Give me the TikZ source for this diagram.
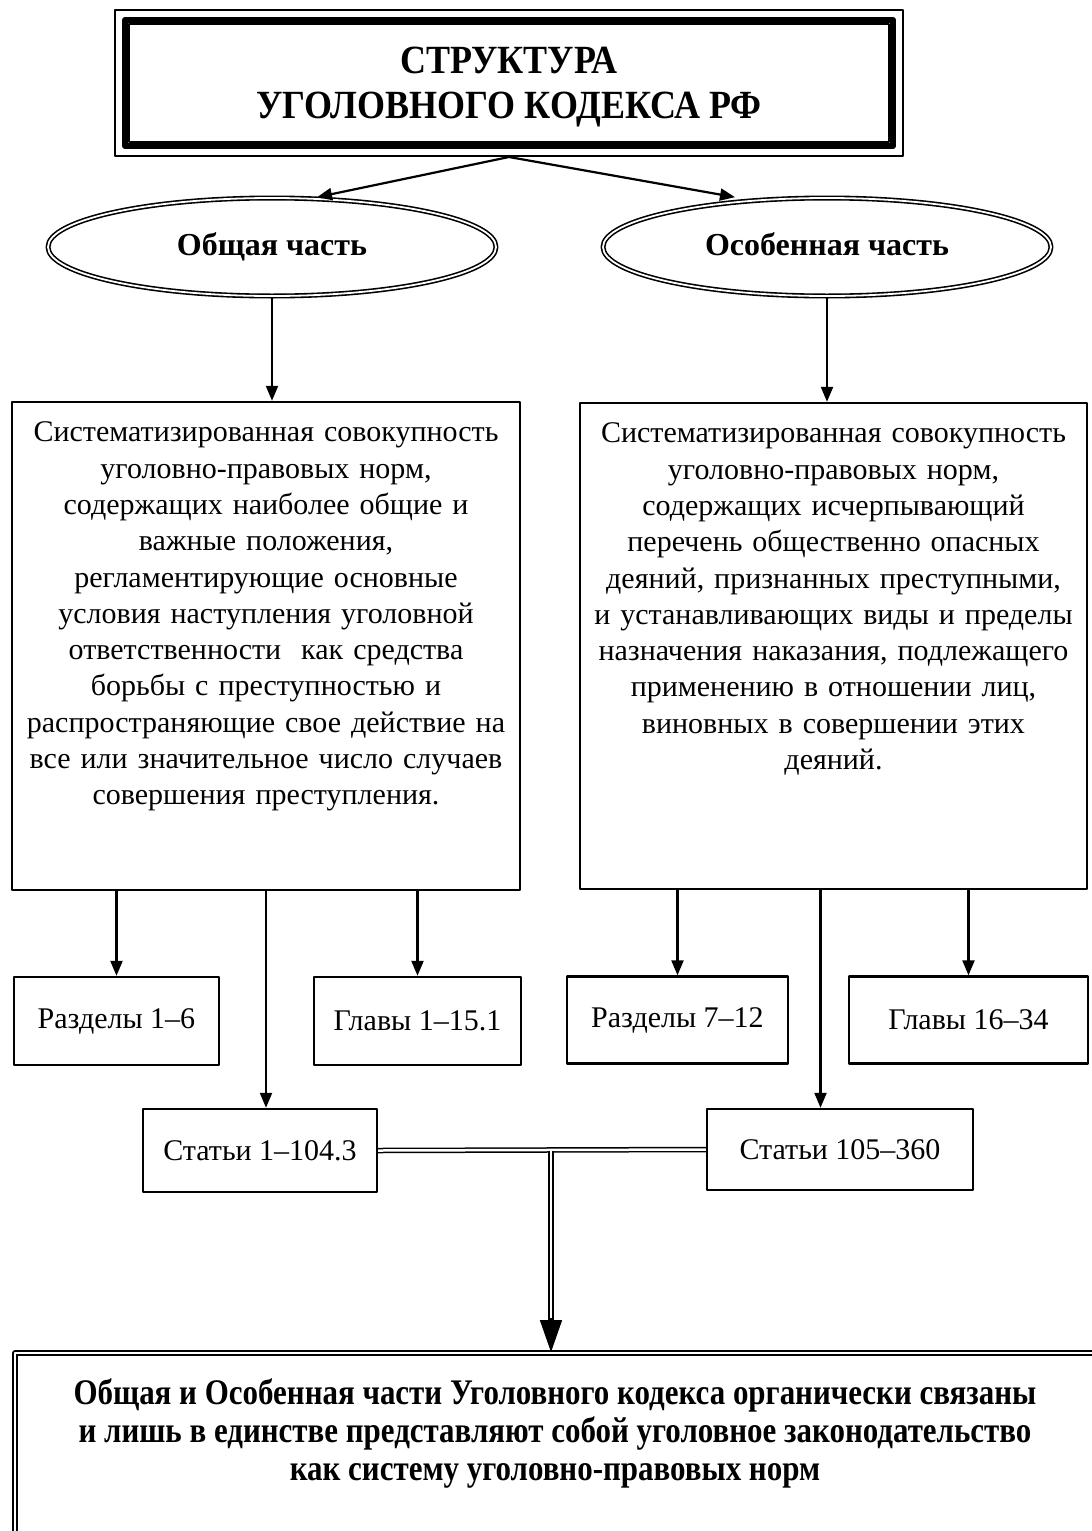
\documentclass[tikz,border=0pt]{standalone}
\usepackage{fontspec}
\setmainfont{Liberation Serif}
\newfontfamily\narrowbf[FakeStretch=0.86]{Liberation Serif Bold}
\newfontfamily\titlebf[FakeStretch=0.9]{Liberation Serif Bold}
\usetikzlibrary{arrows.meta,shapes.geometric,positioning}
\begin{document}
\begin{tikzpicture}[x=1pt,y=-1pt,line join=round,>={Triangle[length=15pt,width=12pt]},
	font=\fontsize{30}{36.3}\selectfont,
	box/.style={draw,line width=2.4pt,inner sep=0pt},
	oval/.style={ellipse,draw,double,line width=1.6pt,double distance=1.8pt,inner sep=0pt,
		minimum width=448pt,minimum height=98pt,text height=23pt,text depth=7pt,
		font=\fontsize{32}{36}\selectfont\bfseries},
	conn/.style={line width=2.2pt,->},
	txt/.style={inner sep=0pt,align=center,anchor=north},
	]
	\useasboundingbox (0,0) rectangle (1092,1531);
	\clip (0,0) rectangle (1092,1531);
	% title with triple frame
	\node[box,line width=6pt,minimum width=768pt,minimum height=126pt] (title) at (509,83) {};
	\draw[line width=2.4pt] ([xshift=-7pt,yshift=7pt]title.north west) rectangle ([xshift=7pt,yshift=-7pt]title.south east);
	\draw[line width=2.4pt] ([xshift=7pt,yshift=-7pt]title.north west) rectangle ([xshift=-7pt,yshift=7pt]title.south east);
	\node[align=center,font=\fontsize{40}{45}\titlebf] (titletext) at ([yshift=-4pt]title.center) {СТРУКТУРА\\УГОЛОВНОГО КОДЕКСА РФ};
	\coordinate (apex) at ([yshift=-8pt]title.south);
	% the two parts
	\node[oval] (general) at (272,247) {Общая часть};
	\node[oval] (special) at (827,247) {Особенная часть};
	\draw[conn] (apex) -- ([xshift=45pt]general.north);
	\draw[conn] (apex) -- ([xshift=-92pt]special.north);
	% descriptions
	\node[box,minimum width=508pt,minimum height=488pt] (genbox) at (266,646) {};
	\node[box,minimum width=507pt,minimum height=486pt] (spbox) at (833.5,646) {};
	\node[txt,text width=500pt] (gentext) at ([yshift=-21pt]genbox.north) {Систематизированная совокупность\\
		уголовно-правовых норм,\\
		содержащих наиболее общие и\\
		важные положения,\\
		регламентирующие основные\\
		условия наступления уголовной\\
		ответственности\ \ как средства\\
		борьбы с преступностью и\\
		распространяющие свое действие на\\
		все или значительное число случаев\\
		совершения преступления.};
	\node[txt,text width=500pt] (sptext) at ([yshift=-21pt]spbox.north) {Систематизированная совокупность\\
		уголовно-правовых норм,\\
		содержащих исчерпывающий\\
		перечень общественно опасных\\
		деяний, признанных преступными,\\
		и устанавливающих виды и пределы\\
		назначения наказания, подлежащего\\
		применению в отношении лиц,\\
		виновных в совершении этих\\
		деяний.};
	\draw[conn] (general.south) -- (general.south |- genbox.north);
	\draw[conn] (special.south) -- (special.south |- spbox.north);
	% sections and chapters
	\node[box,minimum width=205pt,minimum height=88pt] (razd1) at (116.5,1021) {Разделы 1--6};
	\node[box,minimum width=207pt,minimum height=88pt] (glav1) at (417.5,1021) {Главы 1--15.1};
	\node[box,minimum width=221pt,minimum height=87pt] (razd2) at (677.5,1020) {Разделы 7--12};
	\node[box,minimum width=239pt,minimum height=87pt] (glav2) at (968.5,1020) {Главы 16--34};
	\foreach \b/\p in {razd1/genbox,glav1/genbox,razd2/spbox,glav2/spbox}
		\draw[conn] (\b.north |- \p.south) -- (\b.north);
	% articles
	\node[box,minimum width=234pt,minimum height=83pt] (st1) at (260,1150.5) {Статьи 1--104.3};
	\node[box,minimum width=266pt,minimum height=81pt] (st2) at (840,1149.5) {Статьи 105--360};
	\draw[conn] (genbox.south) -- (genbox.south |- st1.north);
	\draw[conn] ([xshift=-13pt]spbox.south) -- ([xshift=-13pt]spbox.south |- st2.north);
	\draw[double,line width=1.5pt,double distance=2.5pt] (st1.east) -- (st2.west);
	% conclusion
	\node[draw,double,line width=1.8pt,double distance=2pt,inner sep=0pt,minimum width=1110pt,minimum height=260pt] (sum) at (570,1483) {};
	\coordinate (jn) at (551,1151);
	\coordinate (jn2) at (551,1320);
	\draw[double,line width=1.5pt,double distance=2.5pt] (jn) -- (jn2);
	\draw[line width=1.5pt,->,>={Triangle[length=32pt,width=22pt]}] ([yshift=2pt]jn2) -- (jn2 |- sum.north);
	\node[txt,font=\fontsize{36}{38}\narrowbf] (sumtext) at (555,1379) {Общая и Особенная части Уголовного кодекса органически связаны\\
		и лишь в единстве представляют собой уголовное законодательство\\
		как систему уголовно-правовых норм};
\end{tikzpicture}
\end{document}
